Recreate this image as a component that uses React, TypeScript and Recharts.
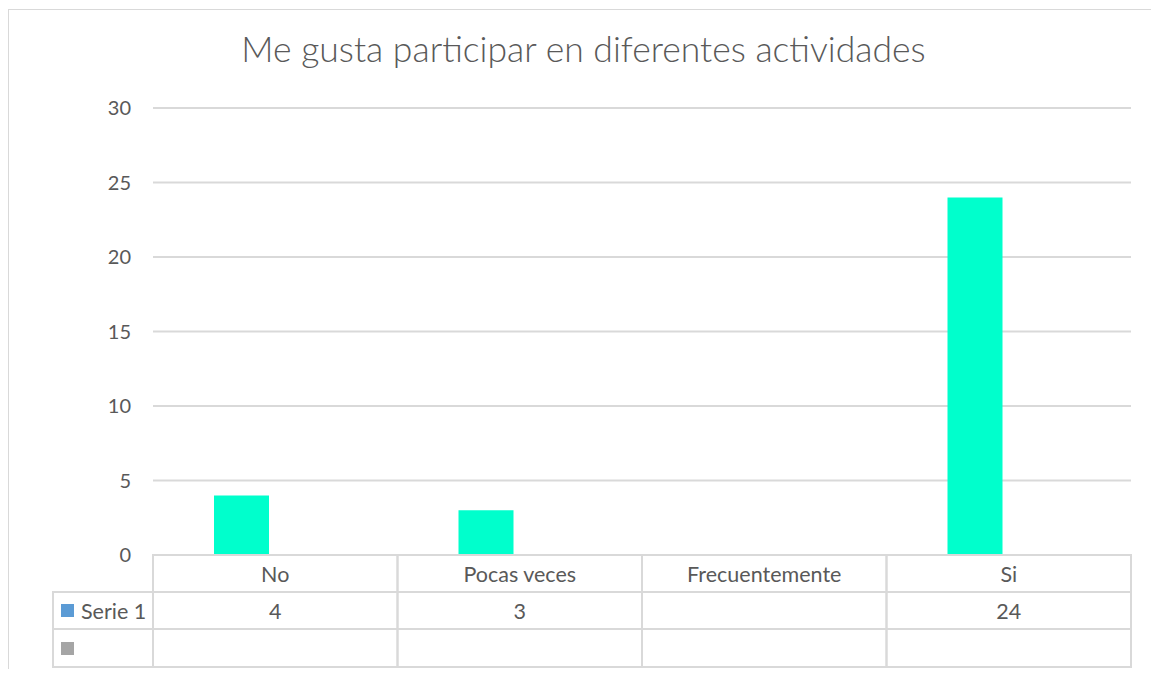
import React from "react";
import { BarChart, Bar, XAxis, YAxis, CartesianGrid } from "recharts";

const title = "Me gusta participar en diferentes actividades";
const categories = ["No", "Pocas veces", "Frecuentemente", "Si"];
const serie1: (number | null)[] = [4, 3, null, 24];
const serie2: (number | null)[] = [null, null, null, null];
const yTicks = [0, 5, 10, 15, 20, 25, 30];

const data = categories.map((name, i) => ({ name, serie1: serie1[i], serie2: serie2[i] }));

const CHART_W = 1149;
const CHART_H = 659;
const MARGIN = { top: 98, right: 27, left: 0, bottom: 0 };
const Y_AXIS_W = 144;
const BAND = (CHART_W - MARGIN.right - Y_AXIS_W) / categories.length;
const ROWS = [37, 37, 38];
const LINE = "#D9D9D9";
const TEXT = "#595959";
const FONT = "Lato, 'Open Sans', sans-serif";
const CELL_FONT = 21.5;

function TableTick(props: any) {
  const { x, y, index, payload } = props;
  const left = x - BAND / 2;
  const r1 = y + ROWS[0];
  const r2 = r1 + ROWS[1];
  const r3 = r2 + ROWS[2];
  const v = serie1[index];
  return (
    <g>
      <rect x={left} y={y} width={BAND} height={r3 - y} fill="none" stroke={LINE} strokeWidth={2} />
      <line x1={left} x2={left + BAND} y1={r1} y2={r1} stroke={LINE} strokeWidth={2} />
      <line x1={left} x2={left + BAND} y1={r2} y2={r2} stroke={LINE} strokeWidth={2} />
      <text x={x} y={y + ROWS[0] / 2} textAnchor="middle" dominantBaseline="central" fontSize={CELL_FONT} fill={TEXT} fontFamily={FONT}>
        {payload.value}
      </text>
      <text x={x} y={r1 + ROWS[1] / 2} textAnchor="middle" dominantBaseline="central" fontSize={CELL_FONT} fill={TEXT} fontFamily={FONT}>
        {v == null ? "" : v}
      </text>
      {index === 0 && (
        <g>
          <rect x={left - 100} y={r1} width={100} height={r3 - r1} fill="none" stroke={LINE} strokeWidth={2} />
          <line x1={left - 100} x2={left} y1={r2} y2={r2} stroke={LINE} strokeWidth={2} />
          <rect x={left - 92} y={r1 + 12} width={13} height={13} fill="#5B9BD5" />
          <text x={left - 72} y={r1 + ROWS[1] / 2} dominantBaseline="central" fontSize={CELL_FONT} fill={TEXT} fontFamily={FONT}>
            Serie 1
          </text>
          <rect x={left - 92} y={r2 + 13} width={13} height={13} fill="#A5A5A5" />
        </g>
      )}
    </g>
  );
}

export default function App() {
  return (
    <div
      style={{
        position: "relative",
        top: 1,
        width: 1149,
        height: 660,
        borderTop: `1px solid ${LINE}`,
        borderLeft: `1px solid ${LINE}`,
        borderRight: `1px solid ${LINE}`,
        background: "#fff",
        fontFamily: FONT,
      }}
    >
      <div
        style={{
          position: "absolute",
          top: 19,
          left: 0,
          width: "100%",
          textAlign: "center",
          fontSize: 35.5,
          fontWeight: 300,
          lineHeight: "40px",
          color: TEXT,
        }}
      >
        {title}
      </div>
      <BarChart width={CHART_W} height={CHART_H} data={data} margin={MARGIN} barGap={13}>
        <CartesianGrid horizontal vertical={false} stroke={LINE} strokeWidth={2} />
        <YAxis
          width={Y_AXIS_W}
          domain={[0, 30]}
          ticks={yTicks}
          axisLine={false}
          tickLine={false}
          tickSize={0}
          tickMargin={22}
          tick={{ fontSize: 20, fill: TEXT, fontFamily: FONT }}
        />
        <XAxis
          dataKey="name"
          height={CHART_H - MARGIN.top - 447}
          axisLine={false}
          tickLine={false}
          tickSize={0}
          tickMargin={0}
          interval={0}
          tick={<TableTick />}
        />
        <Bar dataKey="serie1" fill="#00FFCC" barSize={55} isAnimationActive={false} />
        <Bar dataKey="serie2" fill="#A5A5A5" barSize={55} isAnimationActive={false} />
      </BarChart>
    </div>
  );
}
